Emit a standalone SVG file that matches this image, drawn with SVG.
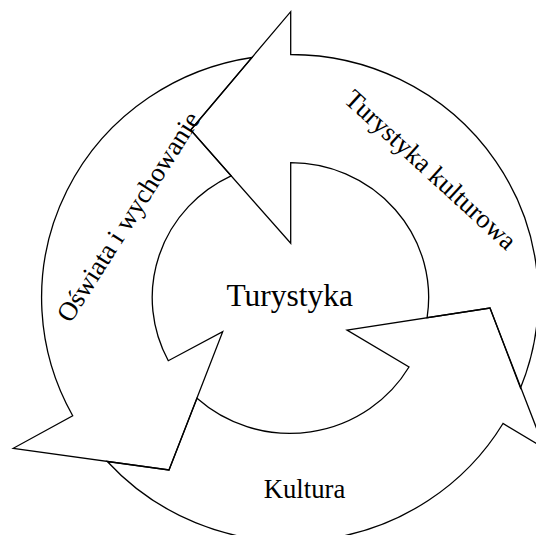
<svg xmlns="http://www.w3.org/2000/svg" width="536" height="535" viewBox="0 0 536 535">
  <style>
    .band { fill: none; stroke: #000; stroke-width: 1.3; stroke-linejoin: miter; }
    .lbl { font-family: "Liberation Serif", "Times New Roman", serif; fill: #000; font-size: 26.7px; text-anchor: middle; }
    .center { font-size: 31.5px; }
  </style>
  <rect x="0" y="0" width="536" height="535" fill="#fff"/>
  <g id="connectors"></g>
  <g id="arrow-turystyka-kulturowa">
    <path class="band" d="M 520.5,388 A 247.5 243 0 0 0 290.7,54.5 L 290.7,11.7 L 190.7,130 L 290.7,243.3 L 290.7,162.7 A 138.2 134.8 0 0 1 427.1,317.7 L 490,308 Z"/>
    <text class="lbl" transform="translate(424.7,176.2) rotate(42.5)">Turystyka kulturowa</text>
  </g>
  <g id="arrow-oswiata-i-wychowanie">
    <path class="band" d="M 252,57.5 A 247.5 243 0 0 0 72.7,415.7 L 13.3,448.3 L 169,470 L 222.7,331.7 L 168.3,360.7 A 138.2 134.8 0 0 1 231.1,175.8 L 190.7,130 Z"/>
    <text class="lbl" transform="translate(135.8,221.5) rotate(-57.5)">Oświata i wychowanie</text>
  </g>
  <g id="arrow-kultura">
    <path class="band" d="M 107.3,461.5 A 247.5 243 0 0 0 503,423.5 L 544.3,448.3 L 490,308 L 347,330 L 409,367 A 138.2 134.8 0 0 1 197,398.3 L 169,470 Z"/>
    <text class="lbl" x="304.5" y="497.5">Kultura</text>
  </g>
  <g id="node-turystyka">
    <text class="lbl center" x="289.7" y="305.5">Turystyka</text>
  </g>
</svg>
